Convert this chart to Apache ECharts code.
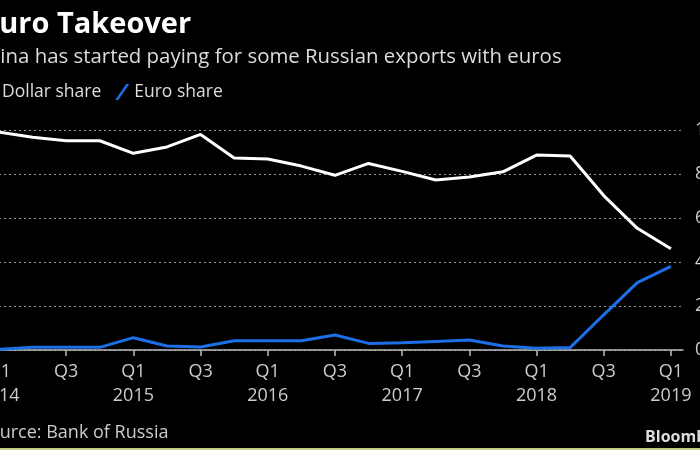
<!DOCTYPE html>
<html>
<head>
<meta charset="utf-8">
<script src="https://cdn.jsdelivr.net/npm/echarts@6/dist/echarts.min.js"></script>
<style>
html,body{margin:0;padding:0;background:#000;}
#c{width:700px;height:450px;}
</style>
</head>
<body>
<div id="c"></div>
<script>
// Quarter labels (Q1 2014 .. Q1 2019)
const quarters = ['Q1 2014','Q2 2014','Q3 2014','Q4 2014','Q1 2015','Q2 2015','Q3 2015','Q4 2015','Q1 2016','Q2 2016','Q3 2016','Q4 2016','Q1 2017','Q2 2017','Q3 2017','Q4 2017','Q1 2018','Q2 2018','Q3 2018','Q4 2018','Q1 2019'];
const dollarShare = [99, 96.7, 95.1, 95.1, 89.4, 92.3, 98, 87.3, 86.8, 83.6, 79.4, 84.8, 81.2, 77.3, 78.6, 81, 88.6, 88.2, 70.2, 55.3, 46];
const euroShare = [0.3, 1.2, 1.2, 1.2, 5.6, 1.8, 1.4, 4.2, 4.2, 4.2, 6.8, 3.0, 3.3, 3.9, 4.5, 1.8, 0.8, 1.1, 16, 30.6, 38];
const yTicks = [0, 20, 40, 60, 80, 100];
const xTickIdx = [0, 2, 4, 6, 8, 10, 12, 14, 16, 18, 20];

const FONT = 'Open Sans';
const chart = echarts.init(document.getElementById('c'), null, {renderer: 'canvas'});
const slash = 'path://M0,16 L3,16 L14,0 L11,0 Z';

chart.setOption({
  backgroundColor: '#000',
  animation: false,
  textStyle: {fontFamily: FONT},
  title: [
    {text: 'Euro Takeover', left: -17, top: 10, padding: 0,
     textStyle: {color: '#fff', fontSize: 29, fontWeight: 'bold', fontFamily: FONT}},
    {text: 'China has started paying for some Russian exports with euros', left: -25, top: 47, padding: 0,
     textStyle: {color: '#ddd', fontSize: 20.4, fontWeight: 'normal', fontFamily: FONT}},
    {text: 'Source: Bank of Russia', left: -21, top: 424, padding: 0,
     textStyle: {color: '#ccc', fontSize: 18, fontWeight: 'normal', fontFamily: FONT}},
    {text: 'Bloomberg', left: 645, top: 429, padding: 0,
     textStyle: {color: '#ddd', fontSize: 16, fontWeight: 'bold', fontFamily: FONT}}
  ],
  legend: {
    left: -17, top: 83, padding: 0, itemWidth: 14, itemHeight: 16, itemGap: 14,
    icon: slash,
    textStyle: {color: '#ddd', fontSize: 17.5, fontFamily: FONT},
    data: ['Dollar share', 'Euro share']
  },
  grid: {left: -1, right: 17, top: 130, bottom: 100, containLabel: false, outerBoundsMode: 'none'},
  xAxis: {
    type: 'value', min: 0, max: 20.36,
    axisLine: {show: true, lineStyle: {color: '#bbb', width: 1.5}},
    axisTick: {show: true, customValues: xTickIdx, length: 6, inside: false, lineStyle: {color: '#bbb', width: 1.5}},
    splitLine: {show: false},
    axisLabel: {
      customValues: xTickIdx, color: '#ccc', fontSize: 18, margin: 10, lineHeight: 24, fontFamily: FONT,
      formatter: function (v) {
        const q = quarters[Math.round(v)];
        if (!q) return '';
        const parts = q.split(' ');
        return parts[0] === 'Q1' ? 'Q1\n' + parts[1] : parts[0];
      }
    }
  },
  yAxis: {
    type: 'value', position: 'right', min: 0, max: 100, interval: 20,
    axisLine: {show: false}, axisTick: {show: false},
    axisLabel: {color: '#ccc', fontSize: 18, margin: 12, fontFamily: FONT,
      customValues: yTicks},
    splitLine: {show: true, lineStyle: {color: '#999', type: [2, 3], width: 1}}
  },
  graphic: [
    {type: 'rect', left: 0, top: 448, shape: {width: 700, height: 2}, style: {fill: '#c6cc86'}, silent: true}
  ],
  series: [
    {name: 'Dollar share', type: 'line', symbol: 'none', z: 3,
     data: dollarShare.map((v, i) => [i, v]),
     itemStyle: {color: '#fff'}, lineStyle: {color: '#fff', width: 3}},
    {name: 'Euro share', type: 'line', symbol: 'none', z: 4,
     data: euroShare.map((v, i) => [i, v]),
     itemStyle: {color: '#1c6fe6'}, lineStyle: {color: '#1c6fe6', width: 3}}
  ]
});
</script>
</body>
</html>
